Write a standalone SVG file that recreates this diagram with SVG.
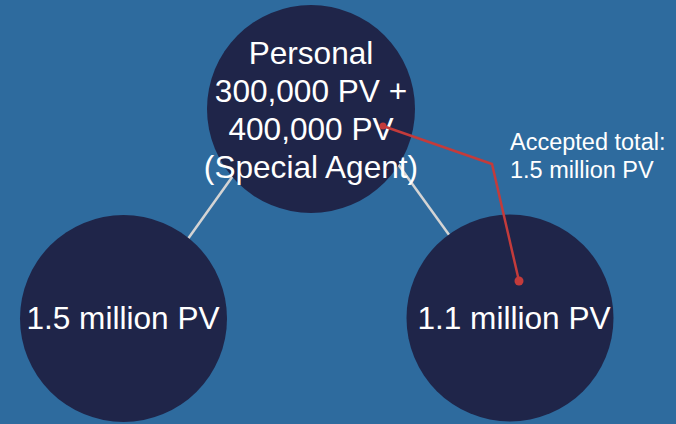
<svg xmlns="http://www.w3.org/2000/svg" width="676" height="424" viewBox="0 0 676 424">
<style>
.node{fill:#1f2549}
.t{font-family:"Liberation Sans",Arial,sans-serif;fill:#ffffff;text-anchor:middle;font-size:31.6px}
.a{font-family:"Liberation Sans",Arial,sans-serif;fill:#ffffff;font-size:23.5px}
.link{stroke:#d4d4d4;stroke-width:2.5;fill:none}
.red{stroke:#c33b3b;stroke-width:2.5;fill:none}
</style>
<rect width="676" height="424" fill="#2e6b9e"/>
<g id="connectors">
<line class="link" x1="240" y1="166" x2="180" y2="250"/>
<line class="link" x1="395" y1="160" x2="460" y2="250"/>
</g>
<g id="personal">
<circle class="node" cx="311" cy="109" r="104"/>
<text class="t" x="311" y="64">Personal</text>
<text class="t" x="311" y="102">300,000 PV +</text>
<text class="t" x="311" y="140">400,000 PV</text>
<text class="t" x="311" y="178">(Special Agent)</text>
</g>
<g id="left">
<circle class="node" cx="123.5" cy="318.5" r="103.5"/>
<text class="t" x="123" y="329">1.5 million PV</text>
</g>
<g id="right">
<circle class="node" cx="510" cy="318" r="103.5"/>
<text class="t" x="514" y="329">1.1 million PV</text>
</g>
<g id="annotation">
<polyline class="red" points="383,126 492,164 519,281"/>
<circle cx="383" cy="126" r="3.5" fill="#c33b3b"/>
<circle cx="519" cy="281" r="4.5" fill="#c33b3b"/>
<text class="a" x="510" y="150">Accepted total:</text>
<text class="a" x="510" y="178">1.5 million PV</text>
</g>
</svg>
